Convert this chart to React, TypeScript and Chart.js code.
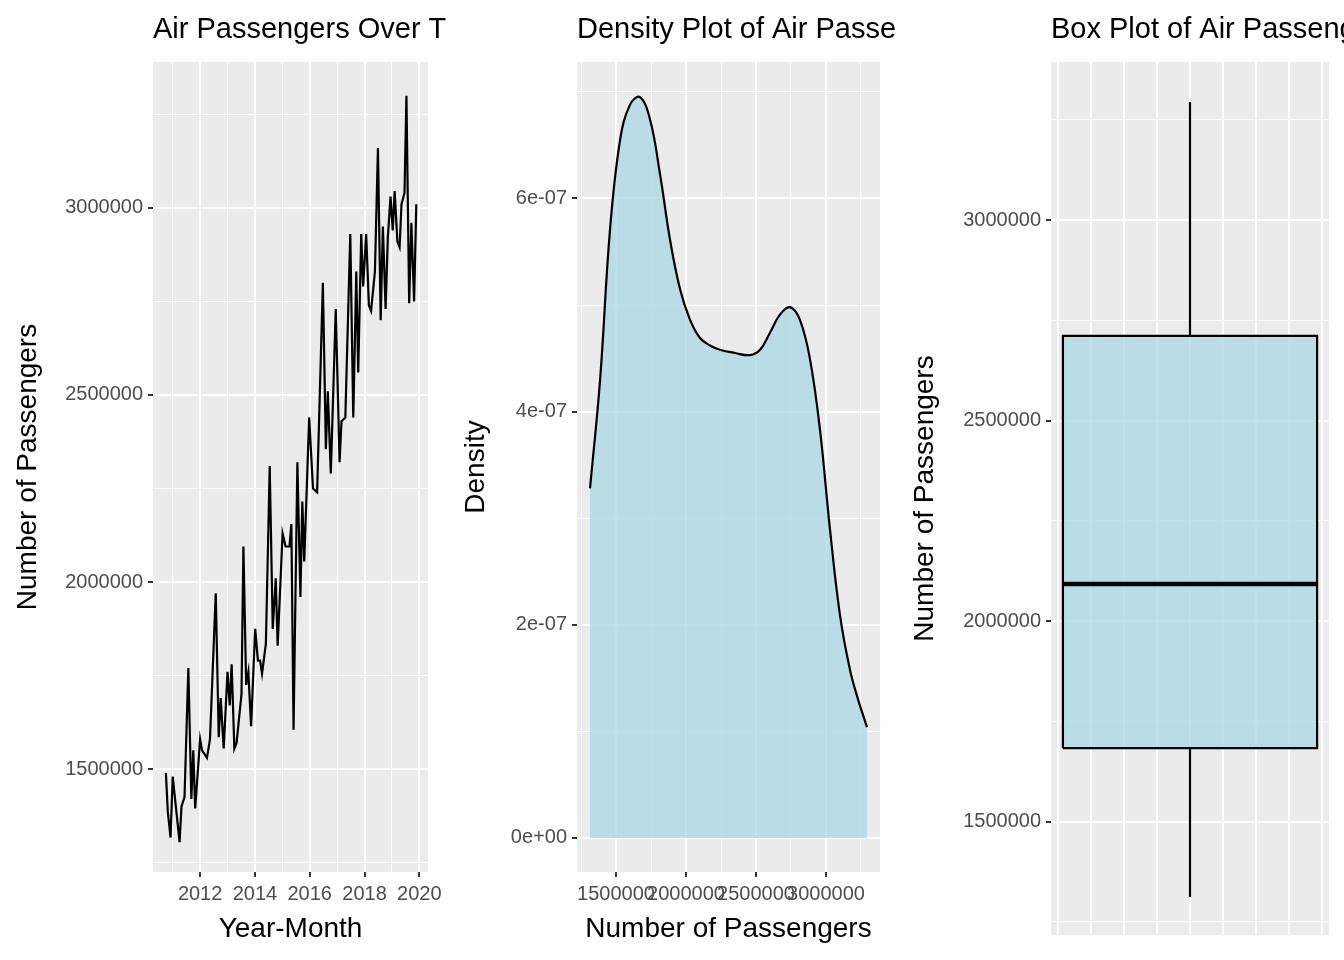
import { useEffect, useRef } from "react";
import { Chart, registerables } from "chart.js";

Chart.register(...registerables);

// ---- data ----
const lineYears = [
  2010.75, 2010.82, 2010.92, 2011.0, 2011.1, 2011.25, 2011.32, 2011.43, 2011.57, 2011.68, 2011.75, 2011.82,
  2012.0, 2012.07, 2012.25, 2012.36, 2012.57, 2012.68, 2012.75, 2012.86, 2013.0, 2013.08, 2013.15, 2013.25,
  2013.33, 2013.51, 2013.58, 2013.68, 2013.76, 2013.86, 2014.01, 2014.11, 2014.19, 2014.26, 2014.4, 2014.54,
  2014.65, 2014.76, 2014.83, 2015.01, 2015.12, 2015.26, 2015.33, 2015.41, 2015.55, 2015.66, 2015.73, 2015.8,
  2015.98, 2016.12, 2016.27, 2016.48, 2016.59, 2016.66, 2016.77, 2016.95, 2017.09, 2017.16, 2017.3, 2017.48,
  2017.59, 2017.7, 2017.77, 2017.88, 2017.95, 2018.06, 2018.16, 2018.24, 2018.38, 2018.49, 2018.59, 2018.67,
  2018.77, 2018.85, 2018.95, 2019.03, 2019.1, 2019.2, 2019.28, 2019.35, 2019.46, 2019.53, 2019.63, 2019.71,
  2019.81, 2019.89,
];
const linePassengers = [
  1490000, 1387000, 1317000, 1480000, 1410000, 1305000, 1400000, 1425000, 1770000, 1420000, 1550000, 1395000,
  1580000, 1550000, 1530000, 1580000, 1970000, 1585000, 1690000, 1555000, 1760000, 1670000, 1780000, 1555000,
  1570000, 1700000, 2095000, 1725000, 1760000, 1615000, 1875000, 1790000, 1790000, 1755000, 1835000, 2310000,
  1875000, 2010000, 1830000, 2130000, 2095000, 2095000, 2155000, 1605000, 2320000, 1960000, 2215000, 2055000,
  2440000, 2250000, 2240000, 2800000, 2355000, 2510000, 2290000, 2730000, 2320000, 2430000, 2440000, 2930000,
  2440000, 2830000, 2560000, 2930000, 2790000, 2930000, 2740000, 2725000, 2830000, 3160000, 2700000, 2950000,
  2730000, 2920000, 3030000, 2940000, 3045000, 2910000, 2895000, 3010000, 3040000, 3300000, 2745000, 2960000,
  2750000, 3010000,
];
const yearTicks = [2011, 2012, 2013, 2014, 2015, 2016, 2017, 2018, 2019, 2020];
const passengerTicks = [1250000, 1500000, 1750000, 2000000, 2250000, 2500000, 2750000, 3000000, 3250000];

const densityX = [
  1314000, 1386000, 1457000, 1529000, 1600000, 1671000, 1743000, 1814000, 1886000, 1957000, 2029000, 2100000,
  2171000, 2243000, 2350000, 2457000, 2529000, 2600000, 2671000, 2743000, 2814000, 2886000, 2957000, 3029000,
  3100000, 3171000, 3229000, 3293000,
];
const densityY = [
  3.28e-7, 4.3e-7, 5.71e-7, 6.55e-7, 6.88e-7, 6.95e-7, 6.74e-7, 6.23e-7, 5.61e-7, 5.15e-7, 4.86e-7, 4.69e-7,
  4.62e-7, 4.58e-7, 4.55e-7, 4.53e-7, 4.58e-7, 4.74e-7, 4.91e-7, 4.98e-7, 4.86e-7, 4.49e-7, 3.83e-7, 2.89e-7,
  2.09e-7, 1.58e-7, 1.3e-7, 1.04e-7,
];
const densityXTicks = [1250000, 1500000, 1750000, 2000000, 2250000, 2500000, 2750000, 3000000, 3250000];
const densityYTicks = [0, 1e-7, 2e-7, 3e-7, 4e-7, 5e-7, 6e-7, 7e-7];

// min, q1, median, q3, max
const boxStats = [1312000, 1683000, 2092000, 2711000, 3294000];
const boxXTicks = [-0.4, -0.3, -0.2, -0.1, 0, 0.1, 0.2, 0.3, 0.4];

const FONT = "'Liberation Sans', Arial, sans-serif";
const PANEL_BG = "#EBEBEB";

type PanelText = { title: string; xTitle: string; yTitle: string; yTitleX: number };

const ggPlugin = (t: PanelText) => ({
  id: "gg",
  beforeDraw(chart: any) {
    const { ctx, chartArea: a } = chart;
    ctx.save();
    ctx.fillStyle = PANEL_BG;
    ctx.fillRect(a.left, a.top, a.right - a.left, a.bottom - a.top);
    ctx.restore();
  },
  afterDraw(chart: any) {
    const { ctx, chartArea: a } = chart;
    ctx.save();
    ctx.fillStyle = "#000";
    ctx.textBaseline = "middle";
    ctx.font = `29px ${FONT}`;
    ctx.textAlign = "left";
    ctx.fillText(t.title, a.left, 30);
    ctx.font = `28px ${FONT}`;
    ctx.textAlign = "center";
    if (t.xTitle) ctx.fillText(t.xTitle, (a.left + a.right) / 2, 929);
    ctx.translate(t.yTitleX, (a.top + a.bottom) / 2);
    ctx.rotate(-Math.PI / 2);
    ctx.fillText(t.yTitle, 0, 0);
    ctx.restore();
  },
});

const axis = (
  min: number,
  max: number,
  ticks: number[],
  isMajor: (v: number) => boolean,
  label: (v: number) => string,
  fitSize: number,
  horizontal: boolean,
  showLabels = true,
) => ({
  type: "linear" as const,
  min,
  max,
  border: { display: false },
  afterBuildTicks: (s: any) => {
    s.ticks = ticks.map((v) => ({ value: v }));
  },
  afterFit: (s: any) => {
    if (horizontal) s.height = fitSize;
    else s.width = fitSize;
  },
  grid: {
    color: "#FFFFFF",
    lineWidth: (c: any) => (isMajor(c.tick?.value) ? 2 : 1),
    tickColor: (c: any) => (showLabels && isMajor(c.tick?.value) ? "#333333" : "rgba(0,0,0,0)"),
    tickLength: 5,
  },
  ticks: {
    display: showLabels,
    autoSkip: false,
    maxRotation: 0,
    padding: 5,
    color: "#4D4D4D",
    font: { size: 20, family: FONT },
    callback: (v: any) => (isMajor(v) ? label(v) : ""),
  },
});

const near = (v: number, step: number) => Math.abs(v / step - Math.round(v / step)) < 1e-6;

function Panel({ left, width, build }: { left: number; width: number; build: (c: HTMLCanvasElement) => Chart }) {
  const ref = useRef<HTMLCanvasElement>(null);
  useEffect(() => {
    if (!ref.current) return;
    const chart = build(ref.current);
    return () => chart.destroy();
  }, []);
  return (
    <div style={{ position: "absolute", left, top: 0, width, height: 960 }}>
      <canvas ref={ref} width={width} height={960} style={{ width, height: 960 }} />
    </div>
  );
}

const baseOptions = (right: number) => ({
  responsive: false,
  animation: false as const,
  devicePixelRatio: 1,
  layout: { padding: { left: 0, top: 62, right, bottom: 0 } },
  plugins: { legend: { display: false }, tooltip: { enabled: false } },
});

export default function App() {
  const buildLine = (c: HTMLCanvasElement) =>
    new Chart(c, {
      type: "line",
      data: {
        datasets: [
          {
            data: lineYears.map((x, i) => ({ x, y: linePassengers[i] })),
            borderColor: "#000",
            borderWidth: 2.2,
            pointRadius: 0,
            tension: 0,
          },
        ],
      },
      options: {
        ...baseOptions(14),
        scales: {
          x: axis(2010.28, 2020.32, yearTicks, (v) => near(v, 2), (v) => String(v), 88, true),
          y: axis(1225000, 3390000, passengerTicks, (v) => near(v, 500000), (v) => String(v), 153, false),
        },
      },
      plugins: [ggPlugin({ title: "Air Passengers Over Time", xTitle: "Year-Month", yTitle: "Number of Passengers", yTitleX: 28 })],
    } as any);

  const buildDensity = (c: HTMLCanvasElement) =>
    new Chart(c, {
      type: "line",
      data: {
        datasets: [
          {
            data: densityX.map((x, i) => ({ x, y: densityY[i] })),
            borderColor: "#000",
            borderWidth: 2.2,
            backgroundColor: "rgba(173,216,230,0.8)",
            fill: "origin",
            pointRadius: 0,
            tension: 0.4,
          },
        ],
      },
      options: {
        ...baseOptions(17),
        scales: {
          x: axis(1221000, 3386000, densityXTicks, (v) => near(v, 500000), (v) => String(v), 88, true),
          y: axis(-0.32e-7, 7.28e-7, densityYTicks, (v) => near(v * 1e7, 2), (v) =>
            v === 0 ? "0e+00" : `${Math.round(v * 1e7)}e-07`, 130, false),
        },
      },
      plugins: [ggPlugin({ title: "Density Plot of Air Passengers", xTitle: "Number of Passengers", yTitle: "Density", yTitleX: 29 })],
    } as any);

  const [lo, q1, med, q3, hi] = boxStats;
  const hw = 0.384;
  const buildBox = (c: HTMLCanvasElement) =>
    new Chart(c, {
      type: "line",
      data: {
        datasets: [
          {
            data: [
              { x: -hw, y: q1 },
              { x: -hw, y: q3 },
              { x: hw, y: q3 },
              { x: hw, y: q1 },
              { x: -hw, y: q1 },
            ],
            borderColor: "#000",
            borderWidth: 2.2,
            backgroundColor: "rgba(173,216,230,0.8)",
            fill: "shape",
            pointRadius: 0,
            order: 2,
          },
          { data: [{ x: -hw, y: med }, { x: hw, y: med }], borderColor: "#000", borderWidth: 4.5, pointRadius: 0, order: 1 },
          { data: [{ x: 0, y: q3 }, { x: 0, y: hi }], borderColor: "#000", borderWidth: 2.2, pointRadius: 0, order: 1 },
          { data: [{ x: 0, y: lo }, { x: 0, y: q1 }], borderColor: "#000", borderWidth: 2.2, pointRadius: 0, order: 1 },
        ],
      },
      options: {
        ...baseOptions(15),
        scales: {
          x: axis(-0.42, 0.42, boxXTicks, () => true, () => "", 25, true, false),
          y: axis(1217000, 3394000, passengerTicks, (v) => near(v, 500000), (v) => String(v), 154, false),
        },
      },
      plugins: [ggPlugin({ title: "Box Plot of Air Passengers", xTitle: "", yTitle: "Number of Passengers", yTitleX: 28 })],
    } as any);

  return (
    <div style={{ position: "absolute", left: 0, top: 0, width: 1344, height: 960, background: "#fff", overflow: "hidden" }}>
      <Panel left={0} width={447} build={buildLine} />
      <Panel left={447} width={450} build={buildDensity} />
      <Panel left={897} width={447} build={buildBox} />
    </div>
  );
}
